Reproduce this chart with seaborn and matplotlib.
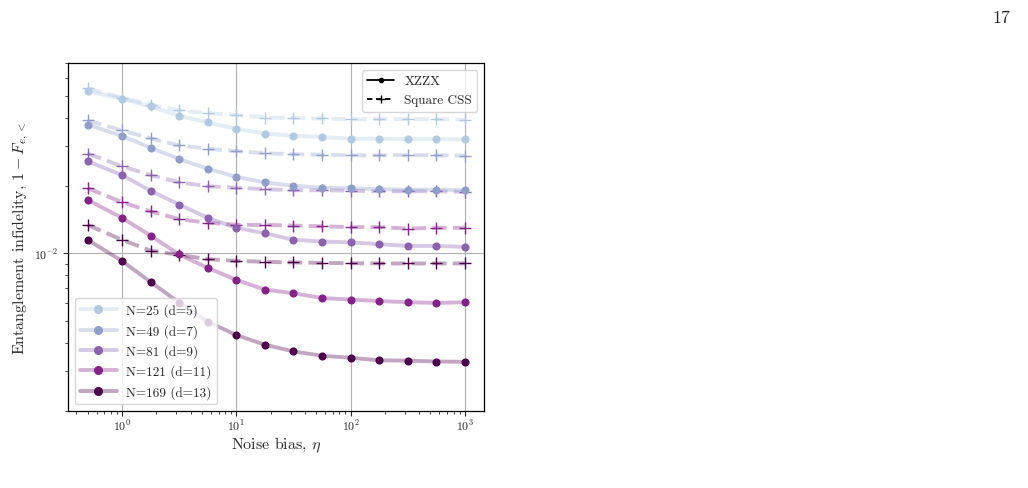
import numpy as np
import pandas as pd
import matplotlib
matplotlib.use("Agg")
import matplotlib.pyplot as plt
from matplotlib.lines import Line2D
from matplotlib.ticker import NullFormatter
import seaborn as sns

# noise bias values (x axis)
eta = [0.5, 1, 1.78, 3.16, 5.62, 10, 17.8, 31.6, 56.2, 100, 178, 316, 562, 1000]

sizes = [25, 49, 81, 121, 169]
dists = [5, 7, 9, 11, 13]

# XZZX code, entanglement infidelity
xzzx_25 = [0.0527, 0.0487, 0.0450, 0.0410, 0.0382, 0.0358, 0.0341, 0.0334, 0.0329, 0.0324, 0.0323, 0.0322, 0.0322, 0.0321]
xzzx_49 = [0.0374, 0.0333, 0.0295, 0.0263, 0.0238, 0.0219, 0.0207, 0.0200, 0.0196, 0.0195, 0.0193, 0.0192, 0.0192, 0.0191]
xzzx_81 = [0.0257, 0.0223, 0.0190, 0.0165, 0.0144, 0.0130, 0.0123, 0.0115, 0.0113, 0.0112, 0.0110, 0.0108, 0.0108, 0.0107]
xzzx_121 = [0.0173, 0.0144, 0.0120, 0.0099, 0.00863, 0.00763, 0.00691, 0.00666, 0.00634, 0.00624, 0.00615, 0.00607, 0.00603, 0.00607]
xzzx_169 = [0.0115, 0.00927, 0.00747, 0.00605, 0.00498, 0.00434, 0.00393, 0.00367, 0.00351, 0.00344, 0.00335, 0.00334, 0.00331, 0.00330]

# square CSS code, entanglement infidelity
css_25 = [0.0543, 0.0492, 0.0459, 0.0432, 0.0420, 0.0413, 0.0402, 0.0400, 0.0398, 0.0395, 0.0395, 0.0396, 0.0395, 0.0393]
css_49 = [0.0390, 0.0352, 0.0325, 0.0302, 0.0292, 0.0285, 0.0279, 0.0276, 0.0275, 0.0273, 0.0273, 0.0274, 0.0273, 0.0272]
css_81 = [0.0278, 0.0244, 0.0223, 0.0207, 0.0199, 0.0196, 0.0193, 0.0191, 0.0191, 0.0190, 0.0189, 0.0189, 0.0189, 0.0188]
css_121 = [0.0195, 0.0169, 0.0154, 0.0142, 0.0137, 0.0134, 0.0134, 0.0133, 0.0132, 0.0131, 0.0131, 0.0129, 0.0130, 0.0130]
css_169 = [0.0134, 0.0115, 0.0103, 0.00986, 0.00943, 0.00927, 0.00918, 0.00912, 0.00908, 0.00905, 0.00903, 0.00903, 0.00903, 0.00903]

xzzx = [xzzx_25, xzzx_49, xzzx_81, xzzx_121, xzzx_169]
css = [css_25, css_49, css_81, css_121, css_169]

rows = []
for code, series in [("XZZX", xzzx), ("Square CSS", css)]:
    for n, vals in zip(sizes, series):
        for e, v in zip(eta, vals):
            rows.append({"code": code, "N": n, "eta": e, "infid": v})
df = pd.DataFrame(rows)

sns.set_style("ticks")
plt.rcParams["font.family"] = ["cmr10", "DejaVu Serif"]
plt.rcParams["mathtext.fontset"] = "cm"
plt.rcParams["axes.formatter.use_mathtext"] = True

colors = plt.cm.BuPu(np.linspace(0.3, 1.0, 5))
fade = 0.35

fig = plt.figure(figsize=(10.28, 4.89), dpi=100)
ax = fig.add_axes([0.0661, 0.158, 0.4047, 0.7105])

for code, ls, mk in [("Square CSS", "--", "+"), ("XZZX", "-", "o")]:
    for i, n in enumerate(sizes):
        sub = df[(df["code"] == code) & (df["N"] == n)]
        c = colors[i]
        sns.lineplot(data=sub, x="eta", y="infid", ax=ax, color=c[:3], alpha=fade,
                     linewidth=2.8, linestyle=ls, estimator=None, sort=True, legend=False)
        if mk == "o":
            sns.scatterplot(data=sub, x="eta", y="infid", ax=ax, color=c[:3], marker="o",
                            s=34, linewidth=0, zorder=3, legend=False)
        else:
            sns.scatterplot(data=sub, x="eta", y="infid", ax=ax, color=c[:3], marker="+",
                            s=75, linewidth=1.0, zorder=3, legend=False)

ax.set_xscale("log")
ax.set_yscale("log")
ax.set_xlim(0.337, 1470)
ax.set_ylim(2e-3, 7e-2)
ax.yaxis.set_minor_formatter(NullFormatter())
ax.grid(True, which="major", color="#b0b0b0", linewidth=0.8)
ax.tick_params(labelsize=8.5)
ax.tick_params(axis="x", pad=2)
for sp in ax.spines.values():
    sp.set_color("black")
    sp.set_linewidth(0.9)

ax.set_xlabel(r"Noise bias, $\eta$", fontsize=11.5, labelpad=1)
ax.set_ylabel(r"Entanglement infidelity, $1 - F_{e,<}$", fontsize=11.5, labelpad=2)

style_handles = [
    Line2D([], [], color="black", linestyle="-", marker=".", markersize=6, linewidth=1.3),
    Line2D([], [], color="black", linestyle=(0, (3, 2)), marker="+", markersize=6, linewidth=1.3),
]
leg1 = ax.legend(style_handles, ["XZZX", "Square CSS"], loc="upper right", fontsize=9.5,
                 handlelength=2.0, handletextpad=0.8, framealpha=0.8)
ax.add_artist(leg1)

size_handles = []
for i, (n, d) in enumerate(zip(sizes, dists)):
    c = colors[i]
    size_handles.append(Line2D([], [], color=(c[0], c[1], c[2], fade), linewidth=2.8,
                               marker="o", markersize=5.5,
                               markerfacecolor=c, markeredgecolor=c))
ax.legend(size_handles, [f"N={n} (d={d})" for n, d in zip(sizes, dists)],
          loc="lower left", fontsize=9.5, handlelength=2.8, handletextpad=0.7,
          framealpha=0.8)

fig.text(0.9825, 0.963, "17", fontsize=13, ha="right", va="center")

fig.savefig("out.png", dpi=100)
